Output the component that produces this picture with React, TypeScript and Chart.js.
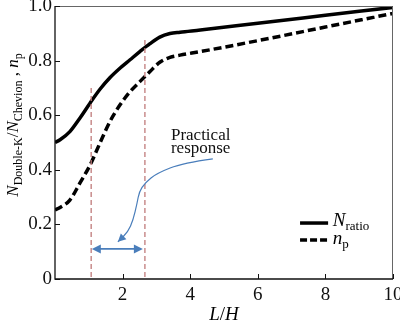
import React, { useEffect, useRef } from "react";
import { Chart, registerables } from "chart.js";

Chart.register(...registerables);

// ---- data ----
const lh = [0, 0.15, 0.44, 0.74, 1.04, 1.33, 1.63, 1.92, 2.22, 2.51, 2.81, 3.1, 3.4, 3.7, 4.3, 6, 8, 10];
const nRatio = [0.5, 0.51, 0.54, 0.59, 0.645, 0.695, 0.738, 0.772, 0.803, 0.833, 0.862, 0.886, 0.899, 0.904, 0.912, 0.937, 0.966, 0.995];
const np = [0.253, 0.262, 0.289, 0.352, 0.418, 0.498, 0.578, 0.637, 0.686, 0.723, 0.76, 0.794, 0.812, 0.82, 0.833, 0.873, 0.923, 0.973];
const xTicks = [2, 4, 6, 8, 10];
const yTicks = [0, 0.2, 0.4, 0.6, 0.8, 1.0];
const vLines = [
  { x: 1.07, top: 0.7 },
  { x: 2.66, top: 0.88 },
];
const rangeArrow = { x1: 1.09, x2: 2.6, y: 0.11 };
const calloutPath = [
  [4.67, 0.44], [3.79, 0.425], [3.02, 0.388], [2.66, 0.352], [2.49, 0.319],
  [2.43, 0.278], [2.31, 0.216], [2.16, 0.172], [1.86, 0.136],
];
const calloutText = ["Practical", "response"];
const calloutPos = { x: 3.43, y1: 0.509, y2: 0.462 };

const SERIF = '"Liberation Serif", "Times New Roman", serif';
const BLUE = "#4a7ebb";

type Run = { t: string; it?: boolean; sub?: boolean };

function drawRuns(ctx: CanvasRenderingContext2D, runs: Run[], x: number, y: number, size: number, align: "left" | "center", subRatio = 0.68) {
  const subSize = Math.round(size * subRatio);
  const fontFor = (r: Run) => `${r.it ? "italic " : ""}${r.sub ? subSize : size}px ${SERIF}`;
  let total = 0;
  for (const r of runs) {
    ctx.font = fontFor(r);
    total += ctx.measureText(r.t).width;
  }
  let cx = align === "center" ? x - total / 2 : x;
  ctx.textAlign = "left";
  ctx.textBaseline = "alphabetic";
  for (const r of runs) {
    ctx.font = fontFor(r);
    ctx.fillText(r.t, cx, y + (r.sub ? size * 0.22 : 0));
    cx += ctx.measureText(r.t).width;
  }
}

function arrowHead(ctx: CanvasRenderingContext2D, x: number, y: number, ang: number, len: number, wid: number) {
  ctx.beginPath();
  ctx.moveTo(x, y);
  ctx.lineTo(x - len * Math.cos(ang) + wid * Math.sin(ang), y - len * Math.sin(ang) - wid * Math.cos(ang));
  ctx.lineTo(x - len * Math.cos(ang) - wid * Math.sin(ang), y - len * Math.sin(ang) + wid * Math.cos(ang));
  ctx.closePath();
  ctx.fill();
}

const decor = {
  id: "decor",
  afterDatasetsDraw(chart: any) {
    const ctx: CanvasRenderingContext2D = chart.ctx;
    const xs = chart.scales.x;
    const ys = chart.scales.y;
    const { left, right, top, bottom } = chart.chartArea;
    const X = (v: number) => xs.getPixelForValue(v);
    const Y = (v: number) => ys.getPixelForValue(v);
    ctx.save();

    // frame
    ctx.strokeStyle = "#666";
    ctx.lineWidth = 1;
    ctx.beginPath();
    ctx.moveTo(left, top + 0.5);
    ctx.lineTo(right - 0.5, top + 0.5);
    ctx.lineTo(right - 0.5, bottom);
    ctx.stroke();
    ctx.strokeStyle = "#111";
    ctx.lineWidth = 1.3;
    ctx.beginPath();
    ctx.moveTo(left, top);
    ctx.lineTo(left, bottom);
    ctx.lineTo(right, bottom);
    ctx.stroke();

    // inward ticks
    ctx.lineWidth = 1;
    ctx.beginPath();
    for (const t of xTicks) {
      const px = Math.round(X(t)) + 0.5;
      ctx.moveTo(px, bottom);
      ctx.lineTo(px, bottom - 5);
    }
    for (const t of yTicks) {
      const py = Math.round(Y(t)) + 0.5;
      ctx.moveTo(left, py);
      ctx.lineTo(left + 5, py);
    }
    ctx.stroke();

    // vertical dashed lines
    ctx.strokeStyle = "#c07a7a";
    ctx.lineWidth = 1.3;
    ctx.setLineDash([5, 3]);
    for (const v of vLines) {
      ctx.beginPath();
      ctx.moveTo(X(v.x), Y(0) - 2);
      ctx.lineTo(X(v.x), Y(v.top));
      ctx.stroke();
    }
    ctx.setLineDash([]);

    // range double arrow
    ctx.strokeStyle = BLUE;
    ctx.fillStyle = BLUE;
    ctx.lineWidth = 1.8;
    const ax1 = X(rangeArrow.x1), ax2 = X(rangeArrow.x2), ay = Y(rangeArrow.y);
    ctx.beginPath();
    ctx.moveTo(ax1 + 6, ay);
    ctx.lineTo(ax2 - 6, ay);
    ctx.stroke();
    arrowHead(ctx, ax1, ay, Math.PI, 9, 4.5);
    arrowHead(ctx, ax2, ay, 0, 9, 4.5);

    // callout curve
    const pts = calloutPath.map(([a, b]) => [X(a), Y(b)]);
    ctx.lineWidth = 1.2;
    ctx.beginPath();
    ctx.moveTo(pts[0][0], pts[0][1]);
    for (let i = 1; i < pts.length - 1; i++) {
      const mx = (pts[i][0] + pts[i + 1][0]) / 2;
      const my = (pts[i][1] + pts[i + 1][1]) / 2;
      ctx.quadraticCurveTo(pts[i][0], pts[i][1], mx, my);
    }
    const last = pts[pts.length - 1];
    const prev = pts[pts.length - 2];
    ctx.lineTo(last[0], last[1]);
    ctx.stroke();
    const ang = Math.atan2(last[1] - prev[1], last[0] - prev[0]);
    arrowHead(ctx, last[0], last[1], ang, 8, 4);

    // callout text
    ctx.fillStyle = "#111";
    drawRuns(ctx, [{ t: calloutText[0] }], X(calloutPos.x), Y(calloutPos.y1), 17, "left");
    drawRuns(ctx, [{ t: calloutText[1] }], X(calloutPos.x), Y(calloutPos.y2), 17, "left");

    // legend
    ctx.strokeStyle = "#000";
    ctx.lineWidth = 3.5;
    ctx.beginPath();
    ctx.moveTo(X(7.25), Y(0.205));
    ctx.lineTo(X(8.08), Y(0.205));
    ctx.stroke();
    ctx.setLineDash([7, 3]);
    ctx.beginPath();
    ctx.moveTo(X(7.25), Y(0.143));
    ctx.lineTo(X(8.08), Y(0.143));
    ctx.stroke();
    ctx.setLineDash([]);
    ctx.fillStyle = "#000";
    drawRuns(ctx, [{ t: "N", it: true }, { t: "ratio", sub: true }], X(8.22), Y(0.194), 19, "left");
    drawRuns(ctx, [{ t: "n", it: true }, { t: "p", sub: true }], X(8.22), Y(0.128), 19, "left");

    // x title
    drawRuns(ctx, [{ t: "L", it: true }, { t: "/" }, { t: "H", it: true }], (left + right) / 2, 320, 19, "center");

    // y title
    ctx.save();
    ctx.translate(18, 125);
    ctx.rotate(-Math.PI / 2);
    drawRuns(
      ctx,
      [
        { t: "N", it: true }, { t: "Double-K", sub: true }, { t: "/" },
        { t: "N", it: true }, { t: "Chevion", sub: true }, { t: " , " },
        { t: "n", it: true }, { t: "p", sub: true },
      ],
      0, 0, 17, "center", 0.7
    );
    ctx.restore();

    ctx.restore();
  },
};

export default function App() {
  const ref = useRef<HTMLCanvasElement | null>(null);
  useEffect(() => {
    if (!ref.current) return;
    const chart = new Chart(ref.current, {
      type: "line",
      data: {
        datasets: [
          {
            label: "N_ratio",
            data: lh.map((x, i) => ({ x, y: nRatio[i] })),
            borderColor: "#000",
            borderWidth: 3.5,
            pointRadius: 0,
            cubicInterpolationMode: "monotone",
            fill: false,
          },
          {
            label: "n_p",
            data: lh.map((x, i) => ({ x, y: np[i] })),
            borderColor: "#000",
            borderWidth: 3.5,
            borderDash: [8, 4],
            pointRadius: 0,
            cubicInterpolationMode: "monotone",
            fill: false,
          },
        ],
      },
      options: {
        responsive: false,
        animation: false,
        layout: { padding: { top: 6, right: 7, left: 0, bottom: 0 } },
        plugins: { legend: { display: false }, tooltip: { enabled: false } },
        scales: {
          x: {
            type: "linear",
            min: 0,
            max: 10,
            grid: { display: false, drawTicks: false },
            border: { display: false },
            afterBuildTicks: (s: any) => {
              s.ticks = [0, ...xTicks].map((v) => ({ value: v }));
            },
            ticks: {
              font: { family: SERIF, size: 19 },
              color: "#111",
              padding: 5,
              maxRotation: 0,
              autoSkip: false,
              callback: (v: any) => (v === 0 ? "" : String(v)),
            },
            afterFit: (s: any) => {
              s.height = 44;
              s.paddingLeft = 0;
              s.paddingRight = 0;
            },
          },
          y: {
            type: "linear",
            min: 0,
            max: 1,
            grid: { display: false, drawTicks: false },
            border: { display: false },
            afterBuildTicks: (s: any) => {
              s.ticks = yTicks.map((v) => ({ value: v }));
            },
            ticks: {
              font: { family: SERIF, size: 19 },
              color: "#111",
              padding: 3,
              autoSkip: false,
              callback: (v: any) => (v === 0 ? "0" : Number(v).toFixed(1)),
            },
            afterFit: (s: any) => {
              s.width = 55;
              s.paddingTop = 0;
              s.paddingBottom = 0;
            },
          },
        },
      },
      plugins: [decor],
    } as any);
    return () => chart.destroy();
  }, []);
  return (
    <div style={{ position: "absolute", left: 0, top: 0, width: 400, height: 323, background: "#fff" }}>
      <canvas ref={ref} width={400} height={323} />
    </div>
  );
}
